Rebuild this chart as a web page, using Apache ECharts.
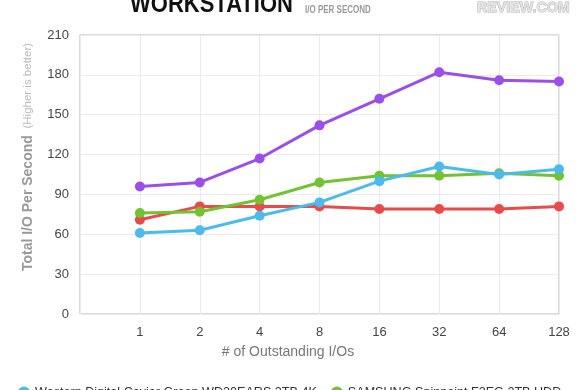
<!DOCTYPE html>
<html><head><meta charset="utf-8">
<script src="https://cdn.jsdelivr.net/npm/echarts@6/dist/echarts.min.js"></script>
<style>html,body{margin:0;padding:0;background:#fff}#c{width:580px;height:390px}</style>
</head><body><div id="c"></div>
<script>
const categories = ['1','2','4','8','16','32','64','128'];
const seriesNames = ['Western Digital Caviar Green WD30EARS 3TB 4K','SAMSUNG Spinpoint F3EG 2TB HDD','Seagate Barracuda LP 2TB','Hitachi Deskstar 7K2000 2TB'];
const blueValues = [61, 63, 74, 84, 100, 111, 105, 109];
const greenValues = [76, 77, 86, 99, 104, 104, 106, 104];
const redValues = [71, 81, 81, 81, 79, 79, 79, 81];
const purpleValues = [96, 99, 117, 142, 162, 182, 176, 175];
const yTicks = [0, 30, 60, 90, 120, 150, 180, 210];

const font = 'Liberation Sans, Arial, sans-serif';
const chart = echarts.init(document.getElementById('c'), null, {renderer:'canvas'});
function mk(name, vals, color, z){
  return {name, type:'line', data:[null].concat(vals), z,
    symbol:'circle', symbolSize:10, lineStyle:{width:3,color}, itemStyle:{color}, color};
}
chart.setOption({
  animation:false,
  grid:{left:80, right:21, top:35, bottom:76, show:true, borderColor:'#b5b5b5', borderWidth:1},
  xAxis:{type:'category', boundaryGap:false, data:[''].concat(categories),
    axisLine:{show:false}, axisTick:{show:false},
    axisLabel:{color:'#444', fontSize:13, fontFamily:font, margin:12},
    splitLine:{show:true, lineStyle:{color:'#ebebeb'}}},
  yAxis:{type:'value', min:yTicks[0], max:yTicks[yTicks.length-1], interval:30,
    axisLine:{show:false}, axisTick:{show:false},
    axisLabel:{color:'#444', fontSize:13, fontFamily:font, margin:11},
    splitLine:{lineStyle:{color:'#ebebeb'}}},
  legend:{left:13, top:381, itemWidth:12, itemHeight:12, itemGap:14, icon:'circle',
    textStyle:{color:'#333', fontSize:12.6, fontFamily:font},
    data:seriesNames},
  series:[
    mk(seriesNames[2], redValues, '#e84b4b', 2),
    mk(seriesNames[1], greenValues, '#72c231', 3),
    mk(seriesNames[0], blueValues, '#4cbbea', 4),
    mk(seriesNames[3], purpleValues, '#9b4fe9', 5)
  ],
  graphic:[
    {type:'text', x:130, y:18, scaleY:1.2, style:{text:'WORKSTATION', font:'bold 22px '+font, fill:'#111', verticalAlign:'bottom'}},
    {type:'text', x:305, y:15, scaleX:0.8, style:{text:'I/O PER SECOND', font:'bold 10px '+font, fill:'#999', verticalAlign:'bottom'}},
    {type:'text', x:477, y:15, scaleX:0.95, style:{text:'REVIEW.COM', font:'bold 15px '+font, fill:'#e4e4e4', stroke:'#b0b0b0', lineWidth:1, verticalAlign:'bottom'}},
    {type:'text', x:288, y:352, style:{text:'# of Outstanding I/Os', font:'14px '+font, fill:'#777', align:'center', verticalAlign:'middle'}},
    {type:'text', x:28, y:157, rotation:Math.PI/2, style:{
      text:'{a|Total I/O Per Second}  {b|(Higher is better)}', align:'center', verticalAlign:'middle',
      rich:{a:{fontSize:14, fontWeight:'bold', fill:'#999', fontFamily:font},
            b:{fontSize:11.5, fill:'#bbb', fontFamily:font}}}}
  ]
});
</script></body></html>
